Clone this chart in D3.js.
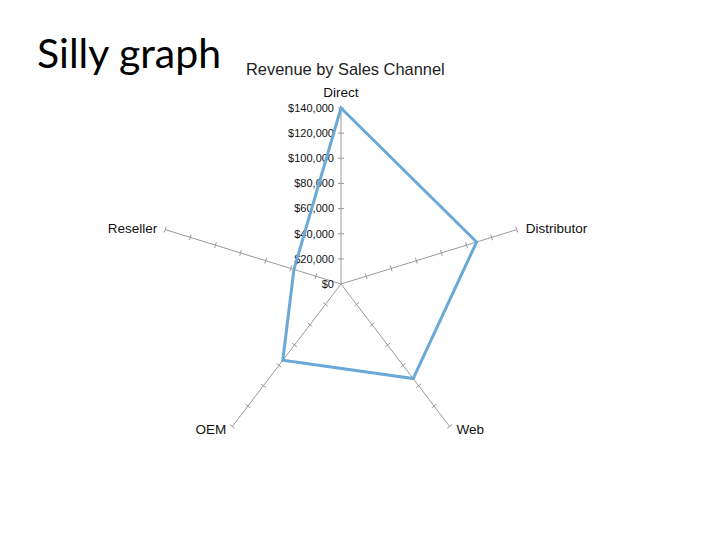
<!DOCTYPE html>
<html><head><meta charset="utf-8">
<script src="https://cdn.jsdelivr.net/npm/d3@7"></script>
<style>body{margin:0;background:#fff}</style>
</head><body>
<svg id="c" width="720" height="540"></svg>
<script>
const categories = ["Direct", "Distributor", "Web", "OEM", "Reseller"];
const revenue = [140000, 108000, 93000, 75000, 37500];
const tickValues = [0, 20000, 40000, 60000, 80000, 100000, 120000, 140000];

const svg = d3.select("#c");
const cx = 341, cy = 284, kx = 1.05;
const r = d3.scaleLinear().domain([0, 140000]).range([0, 176]);
const ang = d3.scaleLinear().domain([0, categories.length]).range([0, 2 * Math.PI]);
const px = (i, v) => cx + kx * r(v) * Math.sin(ang(i));
const py = (i, v) => cy - r(v) * Math.cos(ang(i));

svg.append("text").attr("x", 37).attr("y", 68).attr("font-family", "Lato, 'Open Sans', sans-serif")
  .attr("font-size", 41).attr("fill", "#000").text("Silly graph");
svg.append("text").attr("x", 246).attr("y", 75).attr("font-family", "'Liberation Sans', Arial, sans-serif")
  .attr("font-size", 16.4).attr("fill", "#222").text("Revenue by Sales Channel");

const g = svg.append("g");
categories.forEach((c, i) => {
  g.append("line").attr("x1", px(i, 0)).attr("y1", py(i, 0)).attr("x2", px(i, 140000)).attr("y2", py(i, 140000))
    .attr("stroke", "#9a9a9a").attr("stroke-width", 1);
  const dx = px(i, 1) - px(i, 0), dy = py(i, 1) - py(i, 0);
  const len = Math.hypot(dx, dy), nx = -dy / len, ny = dx / len;
  tickValues.slice(1).forEach(v => {
    g.append("line").attr("x1", px(i, v) - nx * 3).attr("y1", py(i, v) - ny * 3)
      .attr("x2", px(i, v) + nx * 3).attr("y2", py(i, v) + ny * 3)
      .attr("stroke", "#9a9a9a").attr("stroke-width", 1);
  });
});

const fmt = d3.format("$,");
tickValues.forEach(v => {
  g.append("text").attr("x", cx - 7).attr("y", py(0, v)).attr("dy", "0.35em").attr("text-anchor", "end")
    .attr("font-family", "'Liberation Sans', Arial, sans-serif").attr("font-size", 11).attr("fill", "#111").text(fmt(v));
});

const labelPos = [
  {dx: 0, dy: -16, anchor: "middle"},
  {dx: 9, dy: -1, anchor: "start"},
  {dx: 7, dy: 3, anchor: "start"},
  {dx: -6, dy: 3, anchor: "end"},
  {dx: -8, dy: -1, anchor: "end"}
];
categories.forEach((c, i) => {
  const lp = labelPos[i];
  g.append("text").attr("x", px(i, 140000) + lp.dx).attr("y", py(i, 140000) + lp.dy).attr("dy", "0.35em")
    .attr("text-anchor", lp.anchor).attr("font-family", "'Liberation Sans', Arial, sans-serif")
    .attr("font-size", 13.5).attr("fill", "#111").text(c);
});

const line = d3.line().x(d => px(d.i, d.v)).y(d => py(d.i, d.v)).curve(d3.curveLinearClosed);
g.append("path").datum(revenue.map((v, i) => ({i, v}))).attr("d", line)
  .attr("fill", "none").attr("stroke", "#6aa8d8").attr("stroke-width", 3).attr("stroke-linejoin", "miter");
</script>
</body></html>
